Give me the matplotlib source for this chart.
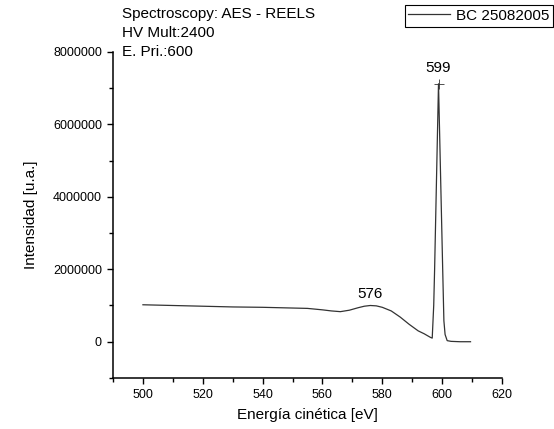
import matplotlib.pyplot as plt
from matplotlib.ticker import MultipleLocator

plt.rcParams['font.family'] = ['Liberation Sans', 'DejaVu Sans']

# REELS spectrum
energy = [500, 510, 520, 530, 540, 550, 555, 560, 563, 566, 569, 572, 574, 576, 578, 580,
          583, 586, 589, 592, 594, 596.1, 596.7, 597.2, 597.5, 598.8, 600.2, 600.6,
          601.0, 601.7, 603, 606, 609.5]
intensity = [1.02e6, 1.0e6, 0.98e6, 0.96e6, 0.95e6, 0.93e6, 0.92e6, 0.88e6, 0.85e6, 0.83e6,
             0.87e6, 0.94e6, 0.98e6, 1.0e6, 0.99e6, 0.95e6, 0.85e6, 0.68e6, 0.48e6, 0.30e6,
             0.22e6, 0.12e6, 0.1e6, 1.0e6, 2.0e6, 7.12e6, 2.0e6, 0.58e6, 0.2e6, 0.03e6,
             0.01e6, 0.0, 0.0]

peak_x = [576, 598.8]
peak_y = [1.0e6, 7.12e6]
peak_labels = ['576', '599']

fig = plt.figure(figsize=(5.54, 4.29), dpi=100)
ax = fig.add_axes([0.204, 0.119, 0.702, 0.760])

line, = ax.plot(energy, intensity, color='#333333', lw=0.9, label='BC 25082005')
ax.plot(peak_x[1], peak_y[1], marker='+', color='#333333', ms=7, mew=0.6)
ax.annotate(peak_labels[0], (peak_x[0], peak_y[0]), xytext=(0, 3), textcoords='offset points',
            ha='center', va='bottom', fontsize=11)
ax.annotate(peak_labels[1], (peak_x[1], peak_y[1]), xytext=(0, 6), textcoords='offset points',
            ha='center', va='bottom', fontsize=11)

ax.set_xlim(490, 620)
ax.set_ylim(-1000000, 8000000)
ax.xaxis.set_major_locator(MultipleLocator(20))
ax.xaxis.set_minor_locator(MultipleLocator(10))
ax.yaxis.set_major_locator(MultipleLocator(2000000))
ax.yaxis.set_minor_locator(MultipleLocator(1000000))
ax.ticklabel_format(axis='y', style='plain', useOffset=False)
ax.spines['top'].set_visible(False)
ax.spines['right'].set_visible(False)
for s in ['left', 'bottom']:
    ax.spines[s].set_linewidth(1.1)
ax.tick_params(axis='both', which='major', length=4.5, width=1.0, pad=3.5, labelsize=9)
ax.tick_params(axis='both', which='minor', length=3, width=1.0)

ax.set_xlabel('Energía cinética [eV]', fontsize=11, labelpad=5)
ax.set_ylabel('Intensidad [u.a.]', fontsize=11, labelpad=11)

fig.text(0.22, 1 - 14 / 429, 'Spectroscopy: AES - REELS', fontsize=11, va='center')
fig.text(0.22, 1 - 33 / 429, 'HV Mult:2400', fontsize=11, va='center')
fig.text(0.22, 1 - 52 / 429, 'E. Pri.:600', fontsize=11, va='center')

leg = fig.legend(handles=[line], loc='upper right', bbox_to_anchor=(553 / 554, 1 - 5 / 429),
                 fontsize=11, fancybox=False, edgecolor='black', framealpha=1,
                 handlelength=2.7, handletextpad=0.4, borderpad=0.25, borderaxespad=0)
leg.get_frame().set_linewidth(0.8)

fig.savefig('out.png', dpi=100)
